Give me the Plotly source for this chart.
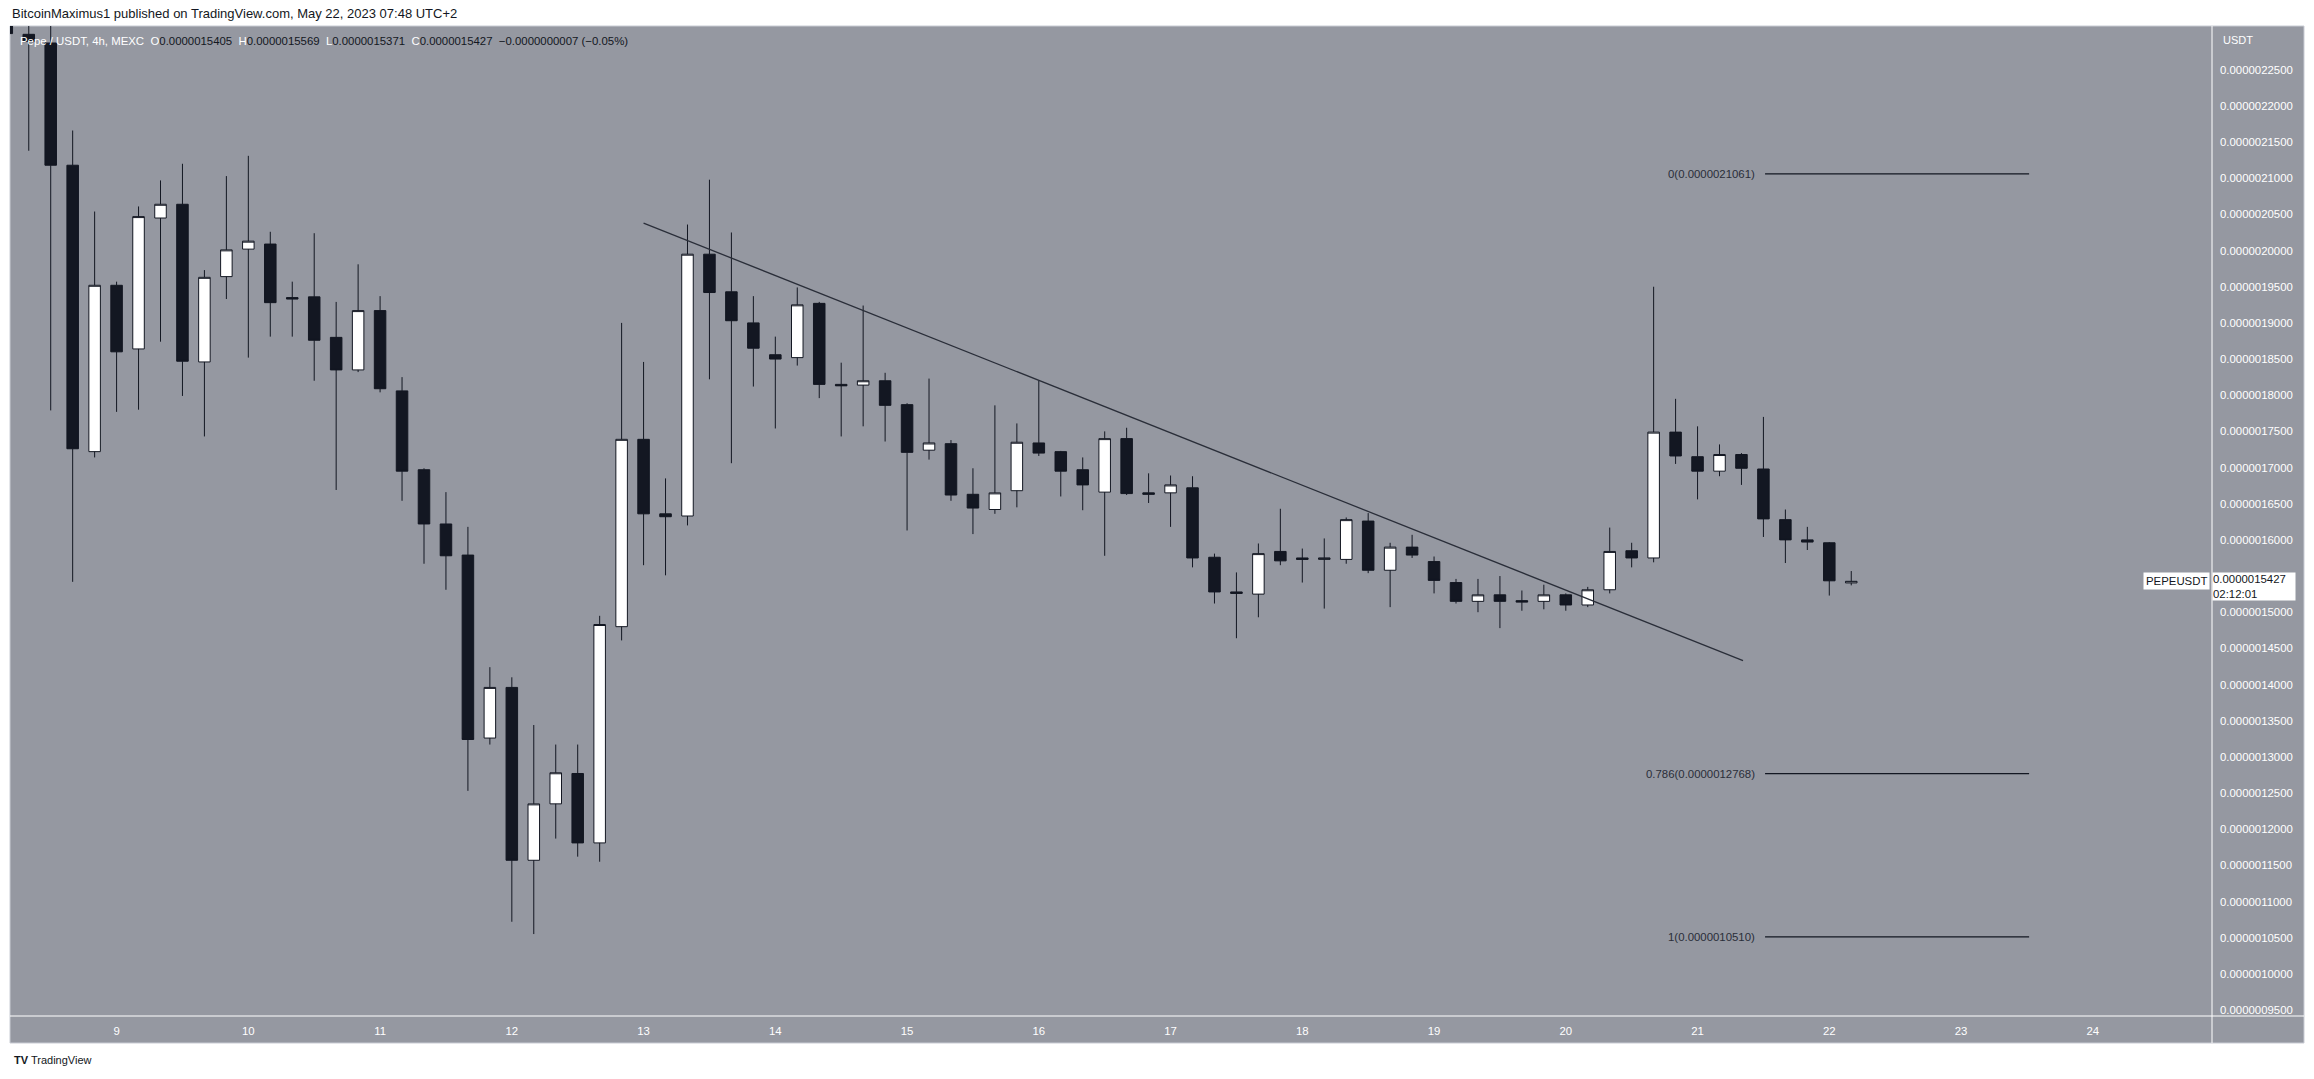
"""PEPE/USDT 4h candles with descending trendline and fib levels (TradingView look)."""

import pandas as pd
import plotly.graph_objects as go

# 4h candles, prices in units of 1e-6 USDT
TIMES = pd.date_range("2023-05-08 04:00", periods=85, freq="4h")
OPEN = [2.360, 2.299, 2.287, 2.118, 1.722, 1.952, 1.864, 2.045, 2.064, 1.846,
        1.964, 2.002, 2.009, 1.935, 1.936, 1.880, 1.835, 1.917, 1.806, 1.697,
        1.622, 1.579, 1.326, 1.396, 1.157, 1.235, 1.277, 1.181, 1.480, 1.739,
        1.636, 1.633, 1.995, 1.943, 1.900, 1.856, 1.852, 1.927, 1.815, 1.814,
        1.820, 1.787, 1.724, 1.733, 1.663, 1.642, 1.668, 1.734, 1.722, 1.697,
        1.666, 1.740, 1.665, 1.665, 1.672, 1.576, 1.528, 1.525, 1.584, 1.575,
        1.573, 1.573, 1.626, 1.558, 1.590, 1.570, 1.541, 1.515, 1.524, 1.516,
        1.515, 1.524, 1.510, 1.531, 1.585, 1.575, 1.749, 1.715, 1.695, 1.718,
        1.698, 1.628, 1.600, 1.596, 1.5405]
HIGH = [2.400, 2.330, 2.330, 2.166, 2.054, 1.957, 2.061, 2.097, 2.120, 1.973,
        2.103, 2.131, 2.026, 1.957, 2.024, 1.929, 1.981, 1.937, 1.825, 1.699,
        1.666, 1.618, 1.424, 1.410, 1.344, 1.317, 1.317, 1.495, 1.900, 1.846,
        1.685, 2.036, 2.098, 2.025, 1.937, 1.881, 1.949, 1.929, 1.845, 1.924,
        1.831, 1.789, 1.823, 1.738, 1.699, 1.786, 1.761, 1.820, 1.723, 1.714,
        1.750, 1.755, 1.692, 1.689, 1.688, 1.581, 1.555, 1.595, 1.643, 1.588,
        1.602, 1.631, 1.637, 1.596, 1.607, 1.577, 1.546, 1.546, 1.550, 1.530,
        1.538, 1.526, 1.535, 1.617, 1.596, 1.950, 1.795, 1.757, 1.732, 1.720,
        1.770, 1.642, 1.618, 1.597, 1.5569]
LOW = [2.298, 2.138, 1.779, 1.542, 1.714, 1.777, 1.780, 1.874, 1.799, 1.743,
       1.933, 1.852, 1.881, 1.881, 1.820, 1.669, 1.832, 1.804, 1.654, 1.567,
       1.531, 1.253, 1.317, 1.072, 1.055, 1.187, 1.162, 1.155, 1.461, 1.565,
       1.551, 1.620, 1.822, 1.706, 1.812, 1.754, 1.841, 1.796, 1.743, 1.757,
       1.736, 1.613, 1.711, 1.654, 1.608, 1.636, 1.645, 1.716, 1.660, 1.641,
       1.578, 1.662, 1.651, 1.618, 1.562, 1.512, 1.464, 1.493, 1.565, 1.541,
       1.505, 1.567, 1.554, 1.507, 1.575, 1.526, 1.512, 1.500, 1.478, 1.502,
       1.504, 1.502, 1.507, 1.526, 1.562, 1.569, 1.705, 1.656, 1.688, 1.676,
       1.604, 1.568, 1.586, 1.523, 1.5371]
CLOSE = [2.300, 2.289, 2.118, 1.726, 1.952, 1.860, 2.047, 2.064, 1.847, 1.963,
         2.001, 2.013, 1.928, 1.933, 1.876, 1.835, 1.917, 1.809, 1.695, 1.622,
         1.578, 1.324, 1.396, 1.157, 1.235, 1.278, 1.181, 1.483, 1.739, 1.636,
         1.632, 1.995, 1.942, 1.903, 1.865, 1.850, 1.925, 1.815, 1.813, 1.820,
         1.786, 1.721, 1.734, 1.662, 1.644, 1.665, 1.735, 1.720, 1.695, 1.676,
         1.740, 1.664, 1.663, 1.676, 1.575, 1.528, 1.526, 1.581, 1.571, 1.573,
         1.575, 1.628, 1.558, 1.590, 1.579, 1.544, 1.515, 1.524, 1.515, 1.514,
         1.524, 1.510, 1.531, 1.584, 1.575, 1.749, 1.716, 1.695, 1.718, 1.699,
         1.629, 1.600, 1.597, 1.5434, 1.5427]

# price-axis ticks every 0.00000005; the one under the last-price tag is hidden by it
Y_TICKS = [round(0.95 + 0.05 * k, 2) for k in range(27) if k != 12]

FIB_LEVELS = ["0", "0.786", "1"]
FIB_PRICES = [2.1061, 1.2768, 1.0510]
FIB_X = ["2023-05-21 12:18", "2023-05-23 12:24"]

TREND_X = ["2023-05-13 00:00", "2023-05-21 08:17"]
TREND_Y = [2.038, 1.433]

X_RANGE = ["2023-05-08 04:35", "2023-05-24 21:43"]
Y_RANGE = [0.9417, 2.3105]

BG = "#9598a1"
DARK = "#131722"
FONT = "Liberation Sans"
W, H = 2314, 1079
L, R, T, B = 10, 2212, 26, 1016   # plot area in pixels


def px_x(x):
    return (x - L) / (R - L)


def px_y(y):
    return (B - y) / (B - T)


def fmt(v):
    return f"{v * 1e-6:.10f}"


fig = go.Figure(go.Candlestick(
    x=TIMES, open=OPEN, high=HIGH, low=LOW, close=CLOSE,
    increasing=dict(fillcolor="#ffffff", line=dict(color=DARK, width=1)),
    decreasing=dict(fillcolor=DARK, line=dict(color=DARK, width=1)),
    whiskerwidth=0, hoverinfo="skip",
))

shapes = [
    dict(type="rect", xref="paper", yref="paper", x0=0, x1=px_x(2304), y0=px_y(1043), y1=1,
         fillcolor=BG, line=dict(color="#c9ccd4", width=1), layer="below"),
    dict(type="line", xref="paper", yref="paper", x0=1, x1=1, y0=px_y(1043), y1=1,
         line=dict(color="#ffffff", width=1)),
    dict(type="line", xref="paper", yref="paper", x0=0, x1=px_x(2304), y0=0, y1=0,
         line=dict(color="#ffffff", width=1)),
    dict(type="line", xref="x", yref="y", x0=TREND_X[0], x1=TREND_X[1], y0=TREND_Y[0], y1=TREND_Y[1],
         line=dict(color="#2a2e39", width=1.3)),
]
annotations = []
for lvl, price in zip(FIB_LEVELS, FIB_PRICES):
    shapes.append(dict(type="line", xref="x", yref="y", x0=FIB_X[0], x1=FIB_X[1], y0=price, y1=price,
                       line=dict(color=DARK, width=1.2)))
    annotations.append(dict(x=FIB_X[0], y=price, xref="x", yref="y", xanchor="right", yanchor="middle",
                            xshift=-8, showarrow=False, text=f"{lvl}({fmt(price)})",
                            font=dict(family=FONT, size=11.4, color="#2a2e39")))

change = CLOSE[-1] - CLOSE[-2]
pct = change / CLOSE[-2] * 100
sep = "\u00a0\u00a0"
legend = (
    f'<span style="color:#ffffff">Pepe / USDT, 4h, MEXC</span>{sep}'
    f'<span style="color:#ffffff">O</span>{fmt(OPEN[-1])}{sep}'
    f'<span style="color:#ffffff">H</span>{fmt(HIGH[-1])}{sep}'
    f'<span style="color:#ffffff">L</span>{fmt(LOW[-1])}{sep}'
    f'<span style="color:#ffffff">C</span>{fmt(CLOSE[-1])}{sep}'
    f'\u2212{fmt(abs(change))} (\u2212{abs(pct):.2f}%)'
)

annotations += [
    dict(x=0, y=px_y(13), xref="paper", yref="paper", xanchor="left", yanchor="middle", showarrow=False,
         text="BitcoinMaximus1 published on TradingView.com, May 22, 2023 07:48 UTC+2",
         font=dict(family=FONT, size=13, color=DARK)),
    dict(x=px_x(18), y=px_y(41), xref="paper", yref="paper", xanchor="left", yanchor="middle",
         showarrow=False, text=legend, font=dict(family=FONT, size=11.4, color=DARK)),
    dict(x=px_x(2221), y=px_y(40), xref="paper", yref="paper", xanchor="left", yanchor="middle",
         showarrow=False, text="USDT", font=dict(family=FONT, size=11, color="#ffffff")),
    dict(x=1, y=CLOSE[-1], xref="paper", yref="y", xanchor="left", yanchor="top", yshift=9,
         showarrow=False, align="left", width=82, bgcolor="#ffffff", borderpad=0,
         text=f"{fmt(CLOSE[-1])}<br>02:12:01", font=dict(family=FONT, size=11.4, color=DARK)),
    dict(x=1, y=CLOSE[-1], xref="paper", yref="y", xanchor="right", yanchor="middle", xshift=-2,
         showarrow=False, bgcolor="#ffffff", borderpad=2,
         text="PEPEUSDT", font=dict(family=FONT, size=11.4, color=DARK)),
    dict(x=px_x(12), y=px_y(1060), xref="paper", yref="paper", xanchor="left", yanchor="middle",
         showarrow=False, text="<b>TV</b> TradingView", font=dict(family=FONT, size=11, color=DARK)),
]

fig.update_layout(
    width=W, height=H, autosize=False,
    margin=dict(l=L, r=W - R, t=T, b=H - B, pad=0),
    paper_bgcolor="#ffffff", plot_bgcolor=BG,
    showlegend=False, hovermode=False, boxgap=0.25,
    shapes=shapes, annotations=annotations,
    font=dict(family=FONT, color="#ffffff"),
)
fig.update_xaxes(
    type="date", range=X_RANGE, rangeslider_visible=False,
    tickformat="%-d", dtick=86400000, tick0="2023-05-09",
    showgrid=False, zeroline=False, showline=False, ticks="",
    tickfont=dict(family=FONT, size=11.4, color="#ffffff"), ticklabelstandoff=7,
)
fig.update_yaxes(
    side="right", range=Y_RANGE, tickvals=Y_TICKS, ticktext=[fmt(v) for v in Y_TICKS],
    showgrid=False, zeroline=False, showline=False, ticks="",
    tickfont=dict(family=FONT, size=11.4, color="#ffffff"), ticklabelstandoff=7,
)

fig.write_html("out.html", config={"displayModeBar": False},
               post_script="document.body.style.margin='0';document.body.style.overflow='hidden';")
